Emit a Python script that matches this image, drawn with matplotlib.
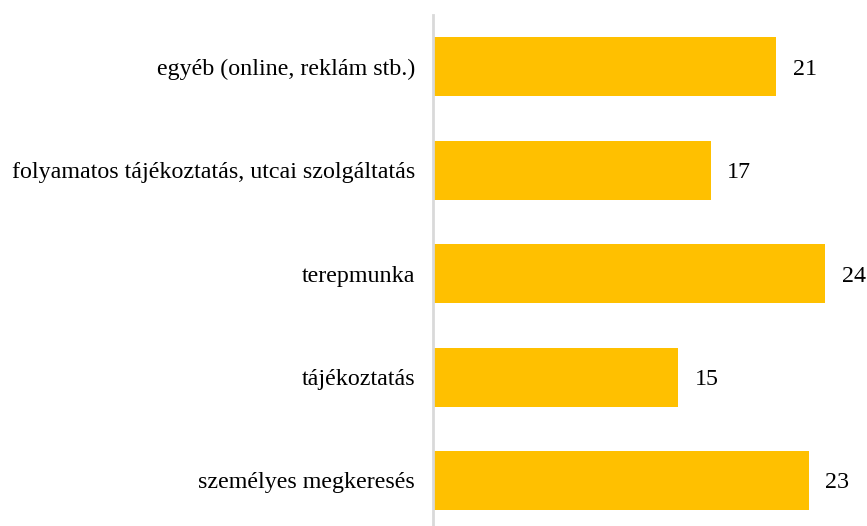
import matplotlib
matplotlib.use("Agg")
import matplotlib.pyplot as plt

categories = ["személyes megkeresés", "tájékoztatás", "terepmunka",
              "folyamatos tájékoztatás, utcai szolgáltatás",
              "egyéb (online, reklám stb.)"]
values = [23, 15, 24, 17, 21]

plt.rcParams['font.family'] = ['Liberation Serif', 'DejaVu Serif']

W, H = 867, 526
fig = plt.figure(figsize=(W / 100, H / 100), dpi=100)
ax = fig.add_axes([433 / W, 0, 1 - 433 / W, 1 - 15 / H])

ypos = list(range(len(categories)))
bars = ax.barh(ypos, values, height=0.57, color="#FFC000", zorder=2)
ax.set_xlim(0, (W - 433) / 16.33)
ax.set_ylim(-0.44, 4.5)
ax.set_yticks(ypos)
ax.set_yticklabels(categories, fontsize=17.3, color="#000000",
                   va="center_baseline")
ax.tick_params(axis='y', length=0, pad=13)
ax.set_xticks([])
for s in ["top", "right", "bottom"]:
    ax.spines[s].set_visible(False)
ax.spines["left"].set_color("#d9d9d9")
ax.spines["left"].set_linewidth(2)
ax.spines["left"].set_zorder(3)

for y, v in zip(ypos, values):
    ax.annotate(str(v), xy=(v, y), xytext=(12, 0), textcoords="offset points",
                va="center_baseline", ha="left", fontsize=17.3, color="#000000")

fig.savefig("out.png", dpi=100)
